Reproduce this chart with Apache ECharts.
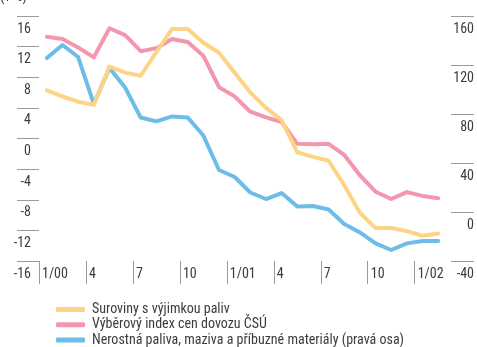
<!DOCTYPE html>
<html>
<head>
<meta charset="utf-8">
<script src="https://cdn.jsdelivr.net/npm/echarts@6/dist/echarts.min.js"></script>
<style>
  html, body { margin: 0; padding: 0; background: #fff; }
  #chart { width: 477px; height: 347px; }
</style>
</head>
<body>
<div id="chart"></div>
<script>
// Monthly observations, January 2000 to February 2002 (26 months)
const monthCount = 26;
const tickMonths = [0, 3, 6, 9, 12, 15, 18, 21, 24];
const tickLabels = ['1/00', '4', '7', '10', '1/01', '4', '7', '10', '1/02'];

const seriesNames = [
  'Suroviny s výjimkou paliv',
  'Výběrový index cen dovozu ČSÚ',
  'Nerostná paliva, maziva a příbuzné materiály (pravá osa)'
];

// left axis, %
const surovinyValues = [6.3, 5.5, 4.8, 4.4, 9.4, 8.6, 8.2, 11.3, 14.3, 14.3, 12.5, 11.2, 8.6,
  6.0, 4.0, 2.4, -1.8, -2.4, -2.9, -6.1, -9.7, -11.7, -11.7, -12.1, -12.7, -12.4];
const indexValues = [13.3, 13.0, 11.9, 10.6, 14.4, 13.5, 11.4, 11.8, 13.0, 12.6, 10.8, 6.7, 5.5,
  3.5, 2.75, 2.15, -0.7, -0.75, -0.7, -2.15, -4.8, -6.95, -7.9, -7.0, -7.5, -7.8];
// right axis, %
const palivaValues = [125.7, 136.3, 126.5, 88.2, 117.6, 101.6, 77.1, 74.0, 78.0, 77.1, 62.4, 34.3, 28.6,
  15.9, 10.6, 15.5, 4.5, 4.9, 2.0, -9.8, -16.7, -25.6, -31.0, -25.6, -23.7, -23.7];

const colors = ['#fdd486', '#f396ae', '#6dbde9'];
const FONT = "'Roboto Condensed', 'DejaVu Sans Condensed', sans-serif";
const FONT_SIZE = 14;
const textColor = '#3c3c3c';
const tickColor = '#9a9a9a';

// each month is drawn at the middle of its band
const toPoints = vals => vals.map((v, i) => [i + 0.5, v]);

const chart = echarts.init(document.getElementById('chart'), null, { renderer: 'canvas' });

const yLabel = {
  align: 'right', verticalAlign: 'top',
  padding: [6, 0, 0, 0],
  showMinLabel: true, showMaxLabel: true,
  fontFamily: FONT, fontSize: FONT_SIZE, color: textColor
};

chart.setOption({
  animation: false,
  textStyle: { fontFamily: FONT },
  grid: { left: 39, right: 31, top: 16, bottom: 86, containLabel: false },
  graphic: [{
    type: 'text', left: 0, top: -10,
    style: { text: '(v %)', font: FONT_SIZE + 'px ' + FONT, fill: textColor }
  }],
  legend: {
    orient: 'vertical',
    left: 56, top: 302, height: 120,
    padding: 0,
    itemWidth: 29, itemHeight: 5, itemGap: 0,
    icon: 'roundRect',
    textStyle: { fontFamily: FONT, fontSize: FONT_SIZE, lineHeight: 15.2, color: textColor, padding: [0, 0, 0, 2] },
    data: seriesNames
  },
  xAxis: {
    type: 'value',
    position: 'bottom',
    min: 0, max: monthCount,
    splitLine: { show: false },
    axisLine: { show: false, onZero: false },
    axisTick: {
      show: true, length: 23, inside: false,
      customValues: tickMonths,
      lineStyle: { color: tickColor, width: 1 }
    },
    axisLabel: {
      customValues: tickMonths,
      formatter: v => tickLabels[tickMonths.indexOf(Math.round(v))] || '',
      align: 'left',
      margin: 6,
      padding: [0, 0, 0, 3],
      fontFamily: FONT, fontSize: FONT_SIZE, color: textColor
    }
  },
  yAxis: [{
    type: 'value',
    position: 'left',
    min: -16, max: 16, interval: 4,
    offset: 6,
    splitLine: { show: false },
    axisLine: { show: false },
    axisTick: { show: true, length: 22, lineStyle: { color: tickColor, width: 1 } },
    axisLabel: Object.assign({ margin: 2 }, yLabel)
  }, {
    type: 'value',
    position: 'right',
    min: -40, max: 160, interval: 40,
    offset: 5,
    splitLine: { show: false },
    axisLine: { show: false },
    axisTick: { show: true, length: 23, lineStyle: { color: tickColor, width: 1 } },
    axisLabel: Object.assign({ margin: 23 }, yLabel)
  }],
  series: [
    { name: seriesNames[0], data: toPoints(surovinyValues), yAxisIndex: 0, color: colors[0] },
    { name: seriesNames[1], data: toPoints(indexValues), yAxisIndex: 0, color: colors[1] },
    { name: seriesNames[2], data: toPoints(palivaValues), yAxisIndex: 1, color: colors[2] }
  ].map((s, i) => Object.assign({
    type: 'line',
    showSymbol: false,
    symbol: 'none',
    z: 3 - i,
    lineStyle: { width: 4, color: colors[i], cap: 'round', join: 'round' }
  }, s))
});
</script>
</body>
</html>
